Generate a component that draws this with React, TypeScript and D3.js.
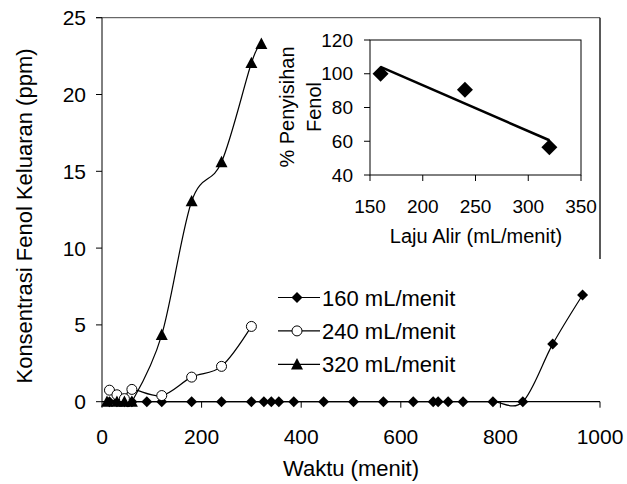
import React from "react";
import * as d3 from "d3";

const s160x = [15, 30, 45, 60, 90, 120, 180, 240, 300, 325, 340, 355, 385, 445, 505, 565, 625, 665, 675, 695, 725, 785, 845, 905, 965];
const s160y = [0, 0, 0, 0, 0, 0, 0, 0, 0, 0, 0, 0, 0, 0, 0, 0, 0, 0, 0, 0, 0, 0, 0, 3.75, 6.95];
const s240x = [15, 30, 45, 60, 120, 180, 240, 300];
const s240y = [0.75, 0.45, 0.2, 0.8, 0.4, 1.6, 2.3, 4.9];
const s320x = [10, 30, 45, 60, 120, 180, 240, 300, 320];
const s320y = [0, 0, 0, 0, 4.35, 13.05, 15.6, 22.05, 23.3];
const seriesNames = ["160 mL/menit", "240 mL/menit", "320 mL/menit"];
const xTicks = [0, 200, 400, 600, 800, 1000];
const yTicks = [0, 5, 10, 15, 20, 25];

const insetX = [160, 240, 320];
const insetY = [100, 90.5, 56.5];
const insetXTicks = [150, 200, 250, 300, 350];
const insetYTicks = [40, 60, 80, 100, 120];

const FONT = "'Liberation Sans', Arial, sans-serif";

function diamond(cx: number, cy: number, r: number) {
  return `M${cx},${cy - r}L${cx + r},${cy}L${cx},${cy + r}L${cx - r},${cy}Z`;
}
function triangle(cx: number, cy: number, r: number) {
  return `M${cx},${cy - r * 1.05}L${cx + r},${cy + r * 0.85}L${cx - r},${cy + r * 0.85}Z`;
}

export default function App() {
  const x = d3.scaleLinear().domain([0, 1000]).range([102, 600]);
  const y = d3.scaleLinear().domain([0, 25]).range([401.7, 17.7]);
  const line = d3
    .line<[number, number]>()
    .x((d) => x(d[0]))
    .y((d) => y(d[1]))
    .curve(d3.curveCatmullRom.alpha(0));

  const series = [
    { xs: s160x, ys: s160y, kind: "diamond" },
    { xs: s240x, ys: s240y, kind: "circle" },
    { xs: s320x, ys: s320y, kind: "triangle" },
  ];

  const marker = (kind: string, cx: number, cy: number, key: any) => {
    if (kind === "diamond") return <path key={key} d={diamond(cx, cy, 5.5)} fill="#000" />;
    if (kind === "circle") return <circle key={key} cx={cx} cy={cy} r={5} fill="#fff" stroke="#000" strokeWidth={1} />;
    return <path key={key} d={triangle(cx, cy, 6)} fill="#000" />;
  };

  // inset
  const ix = d3.scaleLinear().domain([150, 350]).range([370, 581]);
  const iy = d3.scaleLinear().domain([40, 120]).range([175, 40]);
  const mx = d3.mean(insetX)!;
  const my = d3.mean(insetY)!;
  const slope =
    d3.sum(insetX.map((v, i) => (v - mx) * (insetY[i] - my))) /
    d3.sum(insetX.map((v) => (v - mx) * (v - mx)));
  const fit = (v: number) => my + slope * (v - mx);
  const x0 = insetX[0];
  const x1 = insetX[insetX.length - 1];

  return (
    <svg width={627} height={484} style={{ position: "absolute", left: 0, top: 0, background: "#fff" }} fontFamily={FONT}>
      <rect width={627} height={484} fill="#fff" />
      {/* frame */}
      <line x1={96} x2={600} y1={y(25)} y2={y(25)} stroke="#444" strokeWidth={1} />
      <line x1={600} x2={600} y1={y(25)} y2={259} stroke="#222" strokeWidth={1.5} />
      {/* axes */}
      <line x1={x(0)} x2={x(0)} y1={y(25)} y2={y(0)} stroke="#000" strokeWidth={1} />
      <line x1={x(0)} x2={x(1000)} y1={y(0)} y2={y(0)} stroke="#000" strokeWidth={1.2} />
      {yTicks.map((t) => (
        <g key={"yt" + t}>
          <line x1={96} x2={x(0)} y1={y(t)} y2={y(t)} stroke="#000" />
          <text x={86} y={y(t) + 7.5} textAnchor="end" fontSize={21}>
            {t}
          </text>
        </g>
      ))}
      {xTicks.map((t) => (
        <g key={"xt" + t}>
          <line x1={x(t)} x2={x(t)} y1={y(0)} y2={y(0) + 6} stroke="#000" />
          <text x={x(t)} y={444} textAnchor="middle" fontSize={21}>
            {t}
          </text>
        </g>
      ))}
      <text x={351} y={476} textAnchor="middle" fontSize={22}>
        Waktu (menit)
      </text>
      <text transform="translate(32,216) rotate(-90)" textAnchor="middle" fontSize={22}>
        Konsentrasi Fenol Keluaran (ppm)
      </text>

      {/* series */}
      {series.map((s, si) => {
        const pts = s.xs.map((v, i) => [v, s.ys[i]] as [number, number]);
        return (
          <g key={"s" + si}>
            <path d={line(pts) || ""} fill="none" stroke="#000" strokeWidth={1.2} />
            {pts.map((p, i) => marker(s.kind, x(p[0]), y(p[1]), i))}
          </g>
        );
      })}

      {/* legend */}
      {seriesNames.map((n, i) => {
        const ly = 297.5 + i * 33.4;
        return (
          <g key={"lg" + i}>
            <line x1={278} x2={320} y1={ly} y2={ly} stroke="#000" strokeWidth={1.2} />
            {marker(series[i].kind, 297, ly, "m")}
            <text x={322} y={ly + 8} fontSize={22}>
              {n}
            </text>
          </g>
        );
      })}

      {/* inset */}
      <rect x={370} y={40} width={211} height={135} fill="#fff" stroke="#000" strokeWidth={1} />
      {insetYTicks.map((t) => (
        <g key={"iy" + t}>
          <line x1={364} x2={370} y1={iy(t)} y2={iy(t)} stroke="#000" />
          <text x={353} y={iy(t) + 6.5} textAnchor="end" fontSize={19}>
            {t}
          </text>
        </g>
      ))}
      {insetXTicks.map((t) => (
        <g key={"ix" + t}>
          <line x1={ix(t)} x2={ix(t)} y1={175} y2={181} stroke="#000" />
          <text x={ix(t)} y={213} textAnchor="middle" fontSize={19}>
            {t}
          </text>
        </g>
      ))}
      <line x1={ix(x0)} x2={ix(x1)} y1={iy(fit(x0))} y2={iy(fit(x1))} stroke="#000" strokeWidth={2.5} />
      {insetX.map((v, i) => (
        <path key={"id" + i} d={diamond(ix(v), iy(insetY[i]), 8)} fill="#000" />
      ))}
      <text x={476} y={243} textAnchor="middle" fontSize={20}>
        Laju Alir (mL/menit)
      </text>
      <text transform="translate(294,107) rotate(-90)" textAnchor="middle" fontSize={20}>
        % Penyisihan
      </text>
      <text transform="translate(321,107) rotate(-90)" textAnchor="middle" fontSize={20}>
        Fenol
      </text>
    </svg>
  );
}
